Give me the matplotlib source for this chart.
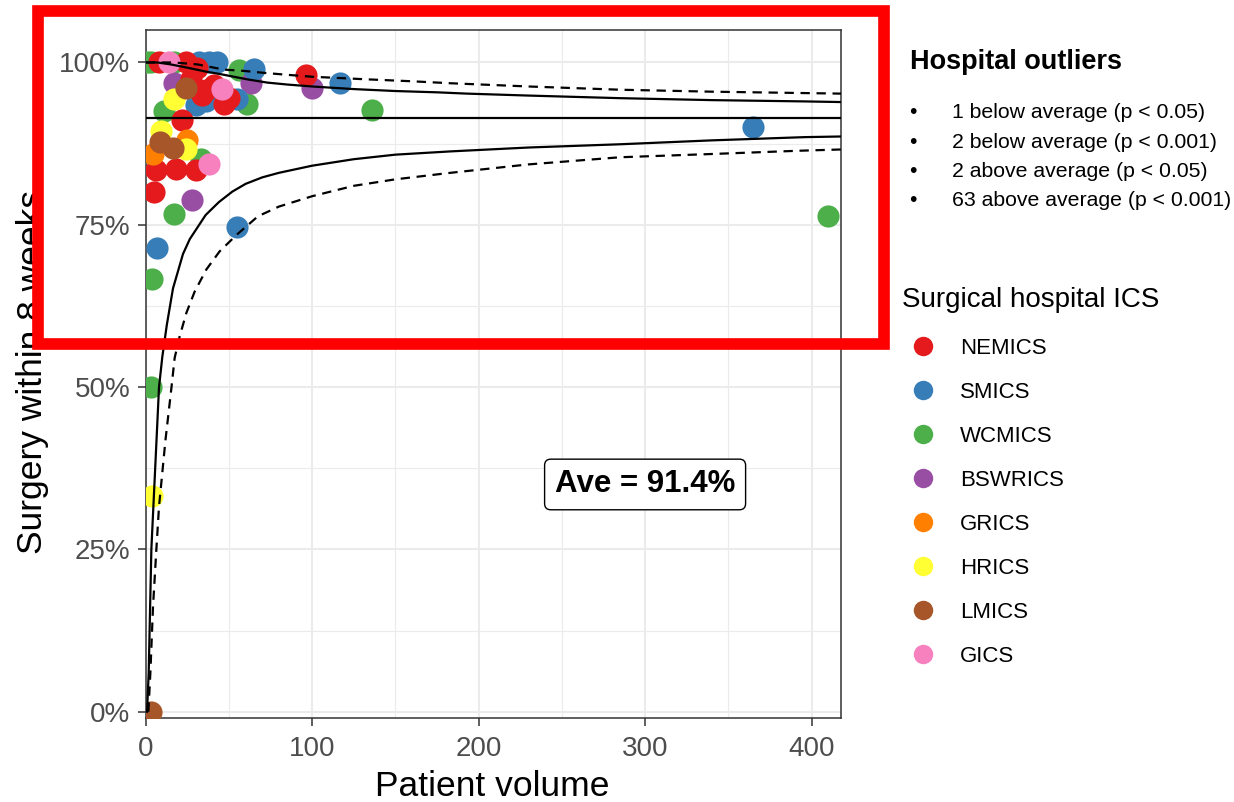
import matplotlib
matplotlib.use("Agg")
import matplotlib.pyplot as plt
from matplotlib.patches import Rectangle
from matplotlib.ticker import PercentFormatter, MultipleLocator

plt.rcParams['font.family'] = 'Liberation Sans'

# ICS groups and their colours (Set1)
ics_names = ["NEMICS", "SMICS", "WCMICS", "BSWRICS", "GRICS", "HRICS", "LMICS", "GICS"]
ics_colours = ["#E41A1C", "#377EB8", "#4DAF4A", "#984EA3", "#FF7F00", "#FFFF33", "#A65628", "#F781BF"]

# hospital volume and share operated within 8 weeks, per ICS
nemics_vol = [8, 24, 96, 31, 41, 34, 36, 50, 47, 22, 6, 18, 30, 5, 27]
nemics_rate = [1.00, 1.00, 0.981, 0.991, 0.966, 0.950, 0.957, 0.945, 0.936, 0.911, 0.835, 0.836, 0.835, 0.801, 0.975]
smics_vol = [32, 38, 43, 65, 117, 365, 55, 7, 28, 30, 36, 55]
smics_rate = [1.00, 1.00, 1.00, 0.990, 0.969, 0.901, 0.746, 0.714, 0.966, 0.934, 0.940, 0.943]
wcmics_vol = [1, 3, 17, 56, 61, 136, 410, 11, 33, 17, 3.5, 3]
wcmics_rate = [1.00, 1.00, 1.00, 0.988, 0.936, 0.927, 0.764, 0.925, 0.851, 0.767, 0.667, 0.50]
bswrics_vol = [100, 63, 28, 17]
bswrics_rate = [0.961, 0.968, 0.788, 0.968]
grics_vol = [25, 4.5]
grics_rate = [0.881, 0.859]
hrics_vol = [17, 9, 4, 24]
hrics_rate = [0.943, 0.894, 0.333, 0.866]
lmics_vol = [24, 8.5, 16.5, 3]
lmics_rate = [0.960, 0.877, 0.868, 0.0]
gics_vol = [14, 46, 38]
gics_rate = [1.00, 0.959, 0.843]

ave = 0.914

# funnel limits
upper95_vol = [0, 7, 15, 25, 36, 45, 61, 73, 85, 100, 125, 150, 175, 193, 230, 285, 340, 396, 418]
upper95_rate = [1.000, 1.000, 0.997, 0.992, 0.986, 0.982, 0.974, 0.969, 0.966, 0.963, 0.959, 0.956,
                0.954, 0.952, 0.949, 0.945, 0.942, 0.940, 0.939]
upper998_vol = [0, 17, 31, 47, 59, 71, 85, 100, 133, 160, 183, 230, 285, 340, 392, 418]
upper998_rate = [1.000, 1.000, 0.997, 0.989, 0.987, 0.984, 0.981, 0.978, 0.974, 0.971, 0.968, 0.963,
                 0.958, 0.955, 0.953, 0.952]
lower95_vol = [0.8, 1.8, 3.4, 8.0, 10, 12.7, 16.4, 22.4, 26.5, 36, 44, 52, 60, 70, 80, 100, 125, 150,
               183, 230, 285, 340, 396, 418]
lower95_rate = [0.0, 0.06, 0.25, 0.50, 0.547, 0.596, 0.652, 0.705, 0.728, 0.765, 0.785, 0.801, 0.813,
                0.823, 0.830, 0.841, 0.851, 0.858, 0.863, 0.869, 0.874, 0.880, 0.885, 0.886]
lower998_vol = [1.6, 2.8, 4.4, 6.4, 8.0, 11.9, 15.5, 17.4, 20.4, 24.4, 29.4, 36.4, 44.4, 54.4, 67.4,
                80, 100, 125, 150, 183, 230, 285, 340, 392, 418]
lower998_rate = [0.0, 0.06, 0.162, 0.25, 0.316, 0.419, 0.50, 0.545, 0.578, 0.614, 0.647, 0.681, 0.709,
                 0.734, 0.763, 0.778, 0.794, 0.810, 0.820, 0.830, 0.843, 0.854, 0.859, 0.864, 0.866]

outlier_lines = ["1 below average (p < 0.05)", "2 below average (p < 0.001)",
                 "2 above average (p < 0.05)", "63 above average (p < 0.001)"]

points = {
    "NEMICS": (nemics_vol, nemics_rate), "SMICS": (smics_vol, smics_rate),
    "WCMICS": (wcmics_vol, wcmics_rate), "BSWRICS": (bswrics_vol, bswrics_rate),
    "GRICS": (grics_vol, grics_rate), "HRICS": (hrics_vol, hrics_rate),
    "LMICS": (lmics_vol, lmics_rate), "GICS": (gics_vol, gics_rate),
}
colour_of = dict(zip(ics_names, ics_colours))
draw_order = ["WCMICS", "BSWRICS", "SMICS", "NEMICS", "GRICS", "HRICS", "LMICS", "GICS"]

W, H = 1234, 802
fig = plt.figure(figsize=(W / 100, H / 100), dpi=100)
ax = fig.add_axes([145.7 / W, 1 - 718 / H, 695 / W, 688 / H])

for name in draw_order:
    vol, rate = points[name]
    ax.scatter(vol, rate, s=255, color=colour_of[name], linewidths=0, zorder=3)

ax.axhline(ave, color="black", lw=1.6, zorder=4)
ax.plot(upper95_vol, upper95_rate, color="black", lw=1.6, zorder=4)
ax.plot(lower95_vol, lower95_rate, color="black", lw=1.6, zorder=4)
ax.plot(upper998_vol, upper998_rate, color="black", lw=1.6, dashes=(4.2, 3), zorder=4)
ax.plot(lower998_vol, lower998_rate, color="black", lw=1.6, dashes=(4.2, 3), zorder=4)

ax.text(300, 0.35, f"Ave = {ave * 100:.1f}%", ha="center", va="center", fontsize=22.5,
        fontweight="bold", zorder=5,
        bbox=dict(boxstyle="round,pad=0.33,rounding_size=0.2", fc="white", ec="black", lw=1))

ax.set_xlim(0, 417.5)
ax.set_ylim(-0.0097, 1.05)
ax.xaxis.set_major_locator(MultipleLocator(100))
ax.xaxis.set_minor_locator(MultipleLocator(50))
ax.yaxis.set_major_locator(MultipleLocator(0.25))
ax.yaxis.set_minor_locator(MultipleLocator(0.125))
ax.yaxis.set_major_formatter(PercentFormatter(xmax=1, decimals=0))
ax.grid(which="major", color="#EBEBEB", lw=1.5)
ax.grid(which="minor", color="#EBEBEB", lw=0.8)
ax.set_axisbelow(True)
for sp in ax.spines.values():
    sp.set_color("#333333")
    sp.set_linewidth(1.1)
ax.tick_params(which="major", length=5.5, width=1.1, color="#333333",
               labelcolor="#4D4D4D", labelsize=20)
ax.tick_params(axis="x", pad=7.5)
ax.tick_params(axis="y", pad=5.5)
ax.tick_params(which="minor", length=0)

fig.text(492.5 / W, 1 - 796 / H, "Patient volume", ha="center", va="baseline", fontsize=25.5)
fig.text(41.7 / W, 1 - 372.5 / H, "Surgery within 8 weeks", rotation=90, rotation_mode="anchor",
         ha="center", va="baseline", fontsize=25.5)

# overlay in pixel coordinates for legends and the highlight box
lax = fig.add_axes([0, 0, 1, 1], zorder=10)
lax.set_xlim(0, W)
lax.set_ylim(H, 0)
lax.axis("off")

lax.text(910, 69.4, "Hospital outliers", fontsize=19.5, fontweight="bold", va="baseline")
for i, line in enumerate(outlier_lines):
    yb = 118.4 + i * 29.1
    lax.text(913, yb, "\u2022", fontsize=15.3, ha="center", va="baseline")
    lax.text(951.7, yb, line, fontsize=15.3, va="baseline")

lax.text(902, 307, "Surgical hospital ICS", fontsize=20, va="baseline")
for i, name in enumerate(ics_names):
    yc = 346 + i * 44
    lax.plot(923.3, yc, "o", ms=14, color=colour_of[name], mew=0)
    lax.text(960, yc + 8.5, name, fontsize=16, va="baseline")

lax.add_patch(Rectangle((37.8, 10.8), 846.4, 333.4, fill=False, ec="#FF0000", lw=8.4,
                        joinstyle="miter"))

fig.savefig("out.png", dpi=100)
